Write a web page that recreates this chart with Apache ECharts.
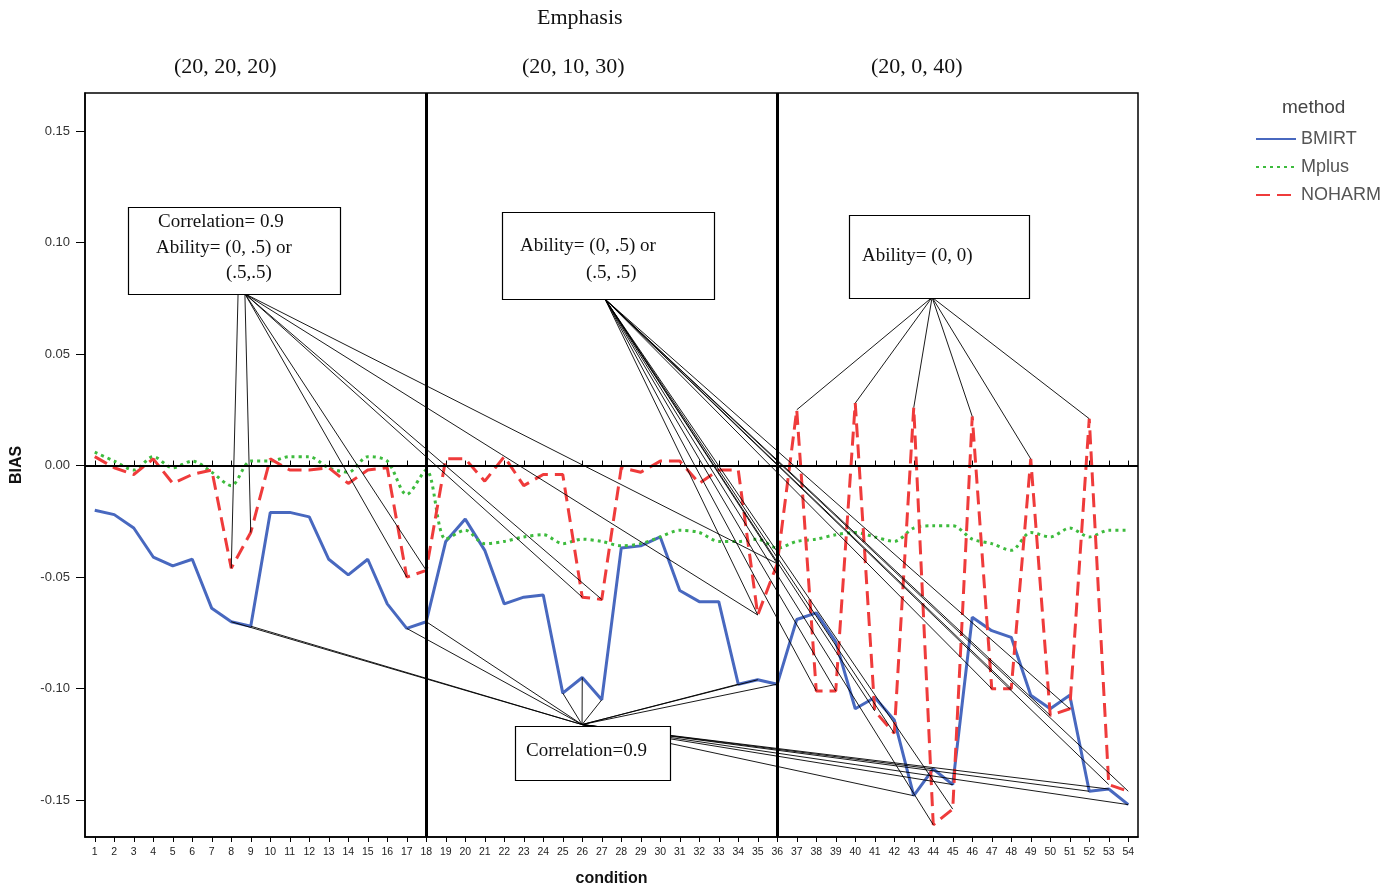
<!DOCTYPE html>
<html>
<head>
<meta charset="utf-8">
<script src="https://cdn.jsdelivr.net/npm/echarts@6/dist/echarts.min.js"></script>
<style>
  html, body { margin: 0; padding: 0; background: #ffffff; }
  #chart { width: 1386px; height: 892px; }
</style>
</head>
<body>
<div id="chart"></div>
<script>
// ---- data ----
const conditions = [1,2,3,4,5,6,7,8,9,10,11,12,13,14,15,16,17,18,19,20,21,22,23,24,25,26,27,
  28,29,30,31,32,33,34,35,36,37,38,39,40,41,42,43,44,45,46,47,48,49,50,51,52,53,54];
const yTicks = [-0.15, -0.10, -0.05, 0.00, 0.05, 0.10, 0.15];
const groupLabels = ['(20, 20, 20)', '(20, 10, 30)', '(20, 0, 40)'];
const groupBreaks = [18, 36];
const seriesNames = ['BMIRT', 'Mplus', 'NOHARM'];

const bmirt = [-0.020, -0.022, -0.028, -0.041, -0.045, -0.042, -0.064, -0.070, -0.072,
  -0.021, -0.021, -0.023, -0.042, -0.049, -0.042, -0.062, -0.073, -0.070,
  -0.034, -0.024, -0.038, -0.062, -0.059, -0.058, -0.102, -0.095, -0.105,
  -0.037, -0.036, -0.032, -0.056, -0.061, -0.061, -0.098, -0.096, -0.098,
  -0.069, -0.066, -0.079, -0.109, -0.104, -0.114, -0.148, -0.136, -0.143,
  -0.068, -0.074, -0.077, -0.103, -0.109, -0.103, -0.146, -0.145, -0.152];
const mplus = [0.006, 0.002, -0.002, 0.004, -0.001, 0.002, -0.003, -0.009, 0.002,
  0.002, 0.004, 0.004, -0.001, -0.003, 0.004, 0.002, -0.013, -0.002,
  -0.033, -0.029, -0.035, -0.034, -0.032, -0.031, -0.035, -0.033, -0.034,
  -0.036, -0.035, -0.032, -0.029, -0.030, -0.034, -0.034, -0.033, -0.037,
  -0.034, -0.033, -0.031, -0.030, -0.032, -0.034, -0.028, -0.027, -0.027,
  -0.033, -0.035, -0.038, -0.030, -0.032, -0.028, -0.032, -0.029, -0.029];
const noharm = [0.004, -0.001, -0.004, 0.003, -0.008, -0.004, -0.002, -0.046, -0.030,
  0.003, -0.002, -0.002, -0.001, -0.008, -0.002, -0.001, -0.050, -0.047,
  0.003, 0.003, -0.007, 0.004, -0.009, -0.004, -0.004, -0.059, -0.060,
  -0.001, -0.003, 0.002, 0.002, -0.008, -0.002, -0.002, -0.067, -0.044,
  0.025, -0.101, -0.101, 0.028, -0.110, -0.120, 0.026, -0.161, -0.154,
  0.022, -0.100, -0.100, 0.003, -0.112, -0.109, 0.021, -0.143, -0.146];

// annotation leader lines: anchor (data coords of box edge) -> target conditions
const leaders = [
  { anchor: [8.35, 0.077], values: noharm, targets: [8] },
  { anchor: [8.7, 0.077], values: noharm, targets: [9, 17, 18, 26, 27, 35, 36] },
  { anchor: [27.17, 0.0746], values: noharm, targets: [35, 36, 38, 39, 41, 42, 44, 45, 47, 48, 50, 51, 53, 54] },
  { anchor: [43.94, 0.0754], values: noharm, targets: [37, 40, 43, 46, 49, 52] },
  { anchor: [25.99, -0.1161], values: bmirt, targets: [8, 9, 17, 18, 25, 26, 27, 34, 35, 36, 43, 44, 45, 52, 53, 54] }
];

// ---- build ----
const pairs = arr => conditions.map((c, i) => [c, arr[i]]);
const leaderData = [];
leaders.forEach(l => l.targets.forEach(t => {
  leaderData.push({ coords: [l.anchor, [t, l.values[t - 1]]] });
}));

const serif = '"Liberation Serif", "DejaVu Serif", serif';
const sans = '"Liberation Sans", Arial, sans-serif';

const chart = echarts.init(document.getElementById('chart'), null, { renderer: 'canvas' });

const boxText = (x, y, text) => ({
  type: 'text', left: x, top: y, z: 110,
  style: { text: text, font: '19px ' + serif, fill: '#111' }
});

const option = {
  animation: false,
  backgroundColor: '#ffffff',
  grid: { left: 85, right: 248, top: 93, bottom: 52, show: true,
    borderColor: '#000', borderWidth: 1.5, backgroundColor: 'transparent' },
  xAxis: [{
    type: 'value', min: 0.5, max: 54.5, position: 'bottom',
    name: 'condition', nameLocation: 'middle', nameGap: 34,
    nameTextStyle: { fontFamily: sans, fontWeight: 'bold', fontSize: 16, color: '#111' },
    axisLine: { show: true, onZero: false, lineStyle: { color: '#000', width: 1.5 } },
    axisTick: { show: true, length: 5, customValues: conditions, lineStyle: { color: '#000', width: 1 } },
    axisLabel: { show: true, customValues: conditions, fontFamily: sans, fontSize: 10.5, color: '#222', margin: 10,
      formatter: v => String(Math.round(v)) },
    splitLine: { show: false }
  }, {
    type: 'value', min: 0.5, max: 54.5, position: 'bottom',
    axisLine: { show: false },
    axisTick: { show: true, inside: true, length: 5, customValues: conditions, lineStyle: { color: '#000', width: 1 } },
    axisLabel: { show: false },
    splitLine: { show: false }
  }],
  yAxis: {
    type: 'value', min: -0.1665, max: 0.167,
    name: 'BIAS', nameLocation: 'middle', nameGap: 60, nameRotate: 90,
    nameTextStyle: { fontFamily: sans, fontWeight: 'bold', fontSize: 16, color: '#111' },
    axisLine: { show: true, onZero: false, lineStyle: { color: '#000', width: 1.5 } },
    axisTick: { show: true, length: 9, customValues: yTicks, lineStyle: { color: '#000', width: 1 } },
    axisLabel: { show: true, customValues: yTicks, fontFamily: sans, fontSize: 13, color: '#333', margin: 15,
      formatter: v => v.toFixed(2) },
    splitLine: { show: false }
  },
  legend: {
    orient: 'vertical', left: 1250, top: 125,
    itemWidth: 40, itemHeight: 14, itemGap: 10,
    data: seriesNames,
    itemStyle: { opacity: 0 },
    textStyle: { fontFamily: sans, fontSize: 18, color: '#555', padding: [0, 0, 0, 0] }
  },
  graphic: [
    { type: 'text', left: 537, top: 7, style: { text: 'Emphasis', font: '22px ' + serif, fill: '#111' } },
    { type: 'text', left: 174, top: 56, style: { text: groupLabels[0], font: '22px ' + serif, fill: '#111' } },
    { type: 'text', left: 522, top: 56, style: { text: groupLabels[1], font: '22px ' + serif, fill: '#111' } },
    { type: 'text', left: 871, top: 56, style: { text: groupLabels[2], font: '22px ' + serif, fill: '#111' } },
    { type: 'text', left: 1282, top: 98, style: { text: 'method', font: '19px ' + sans, fill: '#444' } },
    { type: 'rect', shape: { x: 128.5, y: 207.5, width: 212, height: 87 }, z: 100,
      style: { fill: '#fff', stroke: '#000', lineWidth: 1.2 } },
    boxText(158, 213, 'Correlation= 0.9'),
    boxText(156, 239, 'Ability= (0, .5) or'),
    boxText(226, 264, '(.5,.5)'),
    { type: 'rect', shape: { x: 502.5, y: 212.5, width: 212, height: 87 }, z: 100,
      style: { fill: '#fff', stroke: '#000', lineWidth: 1.2 } },
    boxText(520, 237, 'Ability= (0, .5) or'),
    boxText(586, 264, '(.5, .5)'),
    { type: 'rect', shape: { x: 849.5, y: 215.5, width: 180, height: 83 }, z: 100,
      style: { fill: '#fff', stroke: '#000', lineWidth: 1.2 } },
    boxText(862, 247, 'Ability= (0, 0)'),
    { type: 'rect', shape: { x: 515.5, y: 726.5, width: 155, height: 54 }, z: 100,
      style: { fill: '#fff', stroke: '#000', lineWidth: 1.2 } },
    boxText(526, 742, 'Correlation=0.9')
  ],
  series: [
    {
      name: 'BMIRT', type: 'line', data: pairs(bmirt), symbol: 'none', z: 3,
      lineStyle: { color: '#4868bf', width: 3, type: 'solid' }, itemStyle: { color: '#4868bf' },
      markLine: {
        silent: true, symbol: 'none', label: { show: false }, z: 20,
        lineStyle: { color: '#000', width: 3, type: 'solid' },
        data: [
          { xAxis: groupBreaks[0] },
          { xAxis: groupBreaks[1] },
          { yAxis: 0, lineStyle: { color: '#000', width: 2, type: 'solid' } }
        ]
      }
    },
    {
      name: 'Mplus', type: 'line', data: pairs(mplus), symbol: 'none', smooth: 0.3, z: 3,
      lineStyle: { color: '#3dbb3d', width: 3, type: [3, 4] }, itemStyle: { color: '#3dbb3d' }
    },
    {
      name: 'NOHARM', type: 'line', data: pairs(noharm), symbol: 'none', z: 3,
      lineStyle: { color: '#ef3b3b', width: 3, type: [14, 7] }, itemStyle: { color: '#ef3b3b' }
    },
    {
      name: 'leaders', type: 'lines', coordinateSystem: 'cartesian2d', silent: true, z: 10,
      polyline: false, effect: { show: false },
      lineStyle: { color: '#000', width: 0.9, opacity: 1, curveness: 0 },
      data: leaderData
    }
  ]
};
chart.setOption(option);
</script>
</body>
</html>
